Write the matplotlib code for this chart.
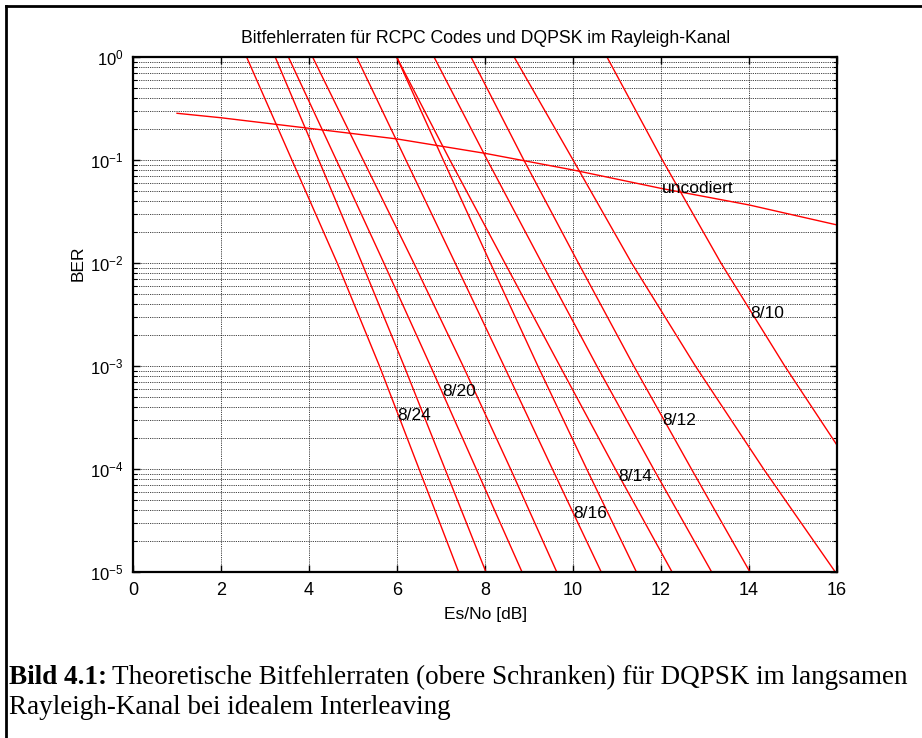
import matplotlib
matplotlib.use('Agg')
import matplotlib.pyplot as plt
from matplotlib.lines import Line2D
from matplotlib.ticker import FuncFormatter
import numpy as np

plt.rcParams['font.family'] = ['Liberation Sans', 'DejaVu Sans']
plt.rcParams['axes.unicode_minus'] = False

# BER levels at which the coded curves were read (decade grid lines)
ber_levels = [1, 1e-1, 1e-2, 1e-3, 1e-4, 1e-5]

# Es/No [dB] of each RCPC curve at the BER levels above
esno_8_24 = [2.58, 3.61, 4.64, 5.60, 6.50, 7.40]
esno_8_22 = [3.23, 4.22, 5.20, 6.16, 7.09, 8.02]
esno_8_20 = [3.53, 4.62, 5.70, 6.76, 7.80, 8.84]
esno_8_18 = [4.08, 5.23, 6.38, 7.50, 8.58, 9.63]
esno_8_16 = [5.08, 6.20, 7.32, 8.43, 9.53, 10.64]
esno_8_15 = [5.99, 7.05, 8.12, 9.20, 10.31, 11.44]
esno_8_14 = [5.99, 7.20, 8.45, 9.70, 10.96, 12.25]
esno_8_13 = [6.84, 8.05, 9.29, 10.54, 11.83, 13.15]
esno_8_12 = [7.68, 8.88, 10.12, 11.38, 12.69, 14.02]
esno_8_11 = [8.66, 10.00, 11.33, 12.78, 14.33, 15.96]
# 8/10 leaves the plot on the right edge
esno_8_10 = [10.77, 12.03, 13.36, 14.81, 16.0]
ber_8_10 = [1, 1e-1, 1e-2, 1e-3, 1.7e-4]

coded = [esno_8_24, esno_8_22, esno_8_20, esno_8_18, esno_8_16,
         esno_8_15, esno_8_14, esno_8_13, esno_8_12, esno_8_11]

# uncoded DQPSK
esno_unc = [1, 2, 4, 6, 8, 10, 12, 14, 16]
ber_unc = [0.284, 0.257, 0.203, 0.160, 0.116, 0.080, 0.053, 0.0366, 0.0234]

# curve labels
label_text = ['8/24', '8/20', '8/16', '8/14', '8/12', '8/10', 'uncodiert']
label_x = [6.0, 7.02, 10.01, 11.03, 12.02, 14.02, 12.01]
label_y = [3.34e-4, 5.6e-4, 3.7e-5, 8.4e-5, 2.99e-4, 3.25e-3, 0.053]

fig = plt.figure(figsize=(9.22, 7.38), dpi=100)
ax = fig.add_axes([0.1443, 0.2249, 0.7636, 0.6979])

for esno in coded:
    ax.plot(esno, ber_levels, color='red', linewidth=1.0)
ax.plot(esno_8_10, ber_8_10, color='red', linewidth=1.0)
ax.plot(esno_unc, ber_unc, color='red', linewidth=1.0)

for t, x, y in zip(label_text, label_x, label_y):
    ax.text(x, y, t, ha='left', va='center', fontsize=12.5)

ax.set_yscale('log')
ax.set_xlim(0, 16)
ax.set_ylim(1e-5, 1)
ax.set_xticks(range(0, 17, 2))
ax.yaxis.set_major_formatter(FuncFormatter(lambda v, p: r'$\mathregular{10^{%d}}$' % round(np.log10(v))))
ax.grid(True, which='both', axis='y', color='black', linestyle=(0, (1, 1.2)), linewidth=0.6)
ax.grid(True, which='major', axis='x', color='black', linestyle=(0, (1, 1.2)), linewidth=0.6)
ax.tick_params(which='both', direction='in', top=True, right=True, labelsize=13)
ax.tick_params(which='major', length=5, width=1, pad=7)
ax.tick_params(which='minor', length=3, width=0.8)
ax.tick_params(axis='y', which='major', labelsize=12, pad=7)
for s in ax.spines.values():
    s.set_linewidth(1.6)

ax.set_title('Bitfehlerraten für RCPC Codes und DQPSK im Rayleigh-Kanal', fontsize=12.7, pad=10)
ax.set_xlabel('Es/No [dB]', fontsize=12.5, labelpad=6)
ax.set_ylabel('BER', fontsize=12.5)
ax.yaxis.set_label_coords(-0.068, 0.60)

# document frame around the figure
fig.add_artist(Line2D([6 / 922, 6 / 922], [0, 1 - 6 / 738], transform=fig.transFigure, color='black', linewidth=2))
fig.add_artist(Line2D([6 / 922, 1], [1 - 6 / 738, 1 - 6 / 738], transform=fig.transFigure, color='black', linewidth=2))

# caption
cap_font = ['Liberation Serif', 'DejaVu Serif']
fig.text(9 / 922, 1 - 677 / 738, 'Bild 4.1:', family=cap_font, fontsize=19.5, fontweight='bold', va='center')
fig.text(112 / 922, 1 - 677 / 738, 'Theoretische Bitfehlerraten (obere Schranken) für DQPSK im langsamen',
         family=cap_font, fontsize=19.5, va='center')
fig.text(9 / 922, 1 - 707 / 738, 'Rayleigh-Kanal bei idealem Interleaving', family=cap_font, fontsize=19.5, va='center')

plt.savefig('out.png', dpi=100)
